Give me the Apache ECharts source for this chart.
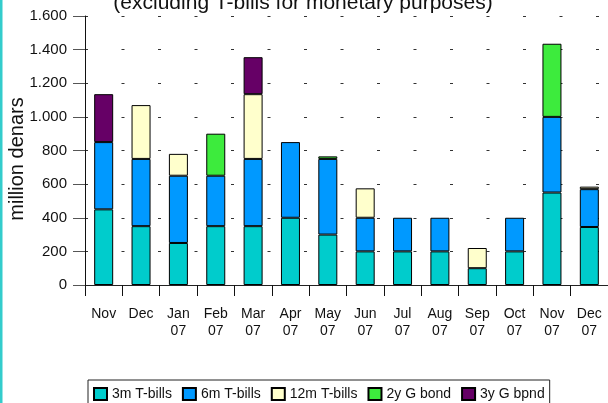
<!DOCTYPE html>
<html>
<head>
<meta charset="utf-8">
<script src="https://cdn.jsdelivr.net/npm/echarts@6/dist/echarts.min.js"></script>
<style>
  html, body { margin: 0; padding: 0; background: #fff; }
  #chart { width: 608px; height: 403px; }
</style>
</head>
<body>
<div id="chart"></div>
<script>
// Monthly auction volumes by instrument, million denars
const categories = ['Nov', 'Dec', 'Jan\n07', 'Feb\n07', 'Mar\n07', 'Apr\n07', 'May\n07',
                    'Jun\n07', 'Jul\n07', 'Aug\n07', 'Sep\n07', 'Oct\n07', 'Nov\n07', 'Dec\n07'];
const tBills3m  = [450, 350, 250, 350, 350, 400, 300, 200, 200, 200, 100, 200, 550, 345];
const tBills6m  = [400, 400, 400, 300, 400, 450, 450, 200, 200, 200, null, 200, 450, 225];
const tBills12m = [null, 320, 130, null, 385, null, null, 175, null, null, 120, null, null, 15];
const bond2y    = [null, null, null, 250, null, null, 15, null, null, null, null, null, 435, null];
const bond3y    = [285, null, null, null, 220, null, null, null, null, null, null, null, null, null];
const seriesNames = ['3m T-bills', '6m T-bills', '12m T-bills', '2y G bond', '3y G bpnd'];
const yTicks = { min: 0, max: 1600, step: 200 };

const FONT = "'Liberation Sans', Arial, sans-serif";
const colors = ['#00CCCC', '#0099FF', '#FFFFCC', '#3DEB3D', '#660066'];
const values = [tBills3m, tBills6m, tBills12m, bond2y, bond3y];

const chart = echarts.init(document.getElementById('chart'), null, { renderer: 'canvas' });

chart.setOption({
  animation: false,
  backgroundColor: '#ffffff',
  grid: { left: 85, top: 16, right: -4.4, bottom: 118, containLabel: false },
  xAxis: {
    type: 'category',
    data: categories,
    axisLine: { lineStyle: { color: '#222', width: 1 } },
    axisTick: { show: true, inside: false, length: 11, alignWithLabel: false,
                lineStyle: { color: '#111', width: 1 } },
    axisLabel: { color: '#111', fontFamily: FONT, fontSize: 14, lineHeight: 17.5,
                 margin: 20, interval: 0 },
    splitLine: { show: false }
  },
  yAxis: {
    type: 'value',
    min: yTicks.min, max: yTicks.max, interval: yTicks.step,
    axisLine: { show: true, lineStyle: { color: '#111', width: 1 } },
    axisTick: { show: true, inside: false, length: 12, lineStyle: { color: '#555', width: 1 } },
    axisLabel: {
      color: '#111', fontFamily: FONT, fontSize: 15, margin: 18,
      formatter: v => String(v).replace(/\B(?=(\d{3})+(?!\d))/g, '.')
    },
    splitLine: { show: true, lineStyle: { color: '#333', width: 1, type: [3, 33.5], dashOffset: 0 } }
  },
  legend: {
    data: seriesNames,
    left: 88, top: 380,
    padding: [7, 5, 7, 5],
    borderColor: '#222', borderWidth: 1,
    itemWidth: 13, itemHeight: 12, itemGap: 10,
    icon: 'rect',
    textStyle: { color: '#111', fontFamily: FONT, fontSize: 14, padding: [0, 0, 0, 0] }
  },
  graphic: [
    { type: 'rect', left: 0, top: 0, shape: { x: 0, y: 0, width: 2.5, height: 403 },
      style: { fill: '#33CCCC' }, z: 100 },
    { type: 'text', x: 303, y: 3,
      style: { text: '(excluding T-bills for monetary purposes)', fill: '#111',
               font: '21px ' + FONT, align: 'center', verticalAlign: 'middle' } },
    { type: 'text', x: 17, y: 159, rotation: Math.PI / 2,
      style: { text: 'million denars', fill: '#111',
               font: '20px ' + FONT, align: 'center', verticalAlign: 'middle' } }
  ],
  series: seriesNames.map((name, i) => ({
    name,
    type: 'bar',
    stack: 'total',
    barWidth: 19,
    data: values[i],
    itemStyle: { color: colors[i], borderColor: '#000', borderWidth: 1 },
    emphasis: { disabled: true }
  }))
});
</script>
</body>
</html>
